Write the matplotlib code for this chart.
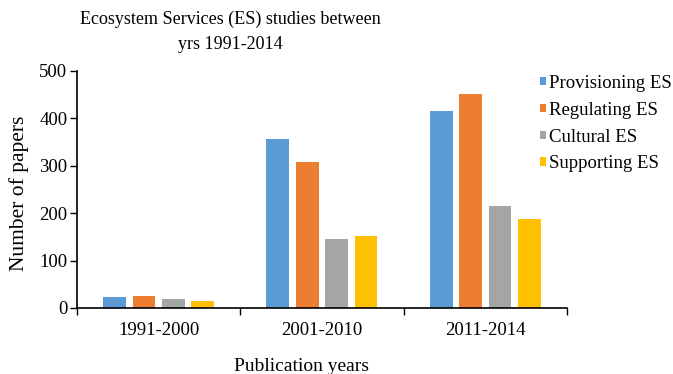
import numpy as np
import matplotlib.pyplot as plt

plt.rcParams['font.family'] = ['Liberation Serif', 'DejaVu Serif']

periods = ['1991-2000', '2001-2010', '2011-2014']
provisioning = [23, 356, 416]
regulating = [25, 307, 451]
cultural = [20, 145, 216]
supporting = [14, 151, 188]

series = [('Provisioning ES', provisioning, '#5b9bd5'),
          ('Regulating ES', regulating, '#ed7d31'),
          ('Cultural ES', cultural, '#a5a5a5'),
          ('Supporting ES', supporting, '#ffc000')]

fig = plt.figure(figsize=(6.73, 3.74), dpi=100)
ax = fig.add_axes([0.1144, 0.1765, 0.728, 0.634])

x = np.arange(len(periods))
step = 0.18
width = 0.14
for i, (name, vals, col) in enumerate(series):
    ax.bar(x + (i - 1.5) * step, vals, width, color=col, label=name)

ax.set_xlim(-0.5, 2.5)
ax.set_ylim(0, 500)
ax.set_yticks(range(0, 501, 100))
ax.set_xticks(x)
ax.set_xticklabels(periods)
ax.set_xticks(np.arange(-0.5, 2.6, 1), minor=True)
ax.tick_params(axis='x', which='major', length=0, labelsize=13.5, pad=10)
ax.tick_params(axis='x', which='minor', length=5, width=1, direction='out')
ax.tick_params(axis='y', labelsize=13.5, length=5, width=1, pad=2)

for s in ['top', 'right']:
    ax.spines[s].set_visible(False)
for s in ['left', 'bottom']:
    ax.spines[s].set_linewidth(1.2)

ax.set_ylabel('Number of papers', fontsize=15.5)
ax.yaxis.set_label_coords(-0.097, 0.482)
ax.set_xlabel('Publication years', fontsize=14)
ax.xaxis.set_label_coords(0.459, -0.212)

fig.text(230 / 673, 1 - 32 / 374, 'Ecosystem Services (ES) studies between\nyrs 1991-2014',
         ha='center', va='center', fontsize=13, linespacing=1.6)

ax.legend(loc='upper left', bbox_to_anchor=(540 / 673, 1 - 75 / 374),
          bbox_transform=fig.transFigure, frameon=False, borderpad=0,
          borderaxespad=0, fontsize=13.5, handlelength=0.3, handleheight=0.3,
          handletextpad=0.2, labelspacing=0.52)

fig.savefig('out.png', dpi=100)
